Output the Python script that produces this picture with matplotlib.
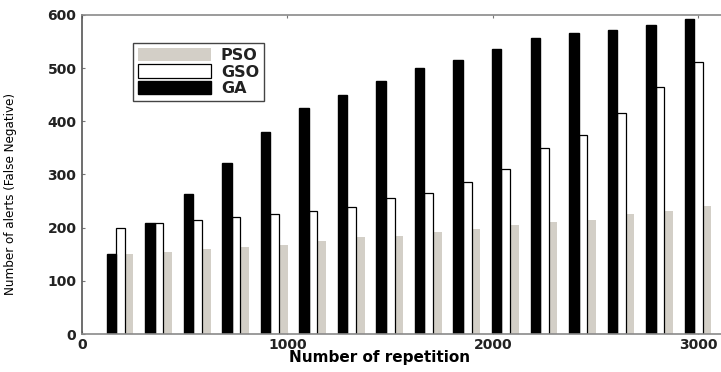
import numpy as np
import matplotlib
matplotlib.use('Agg')
import matplotlib.pyplot as plt

# repetitions (16 groups, step 187.5)
reps = [187.5 * k for k in range(1, 17)]
pso = [150, 155, 159, 163, 168, 175, 182, 184, 191, 197, 205, 210, 214, 226, 231, 241]
gso = [199, 209, 214, 220, 225, 231, 238, 256, 265, 285, 310, 350, 375, 415, 464, 511]
ga = [150, 209, 263, 321, 380, 425, 449, 476, 500, 515, 536, 556, 566, 571, 581, 592]

xticks = [0, 1000, 2000, 3000]
yticks = [0, 100, 200, 300, 400, 500, 600]

fig = plt.figure(figsize=(7.21, 3.72), dpi=100)
ax = fig.add_axes([0.1137, 0.102, 0.8863 + 0.02, 0.858])

x = np.array(reps)
w = 42
ax.bar(x + w, pso, width=w, color='#d3cfc7', edgecolor='none', label='PSO', zorder=2)
ax.bar(x, gso, width=w, color='white', edgecolor='black', linewidth=0.9, label='GSO', zorder=2)
ax.bar(x - w * 1.05, ga, width=w * 1.1, color='black', edgecolor='black', label='GA', zorder=2)

ax.set_xlim(0, 3180)
ax.set_ylim(0, 600)
ax.set_xticks(xticks)
ax.set_yticks(yticks)
ax.tick_params(direction='in', length=2, top=True, right=False, width=0.8, color='#777777')
for lbl in ax.get_xticklabels() + ax.get_yticklabels():
    lbl.set_fontweight('bold')
    lbl.set_fontsize(10)
    lbl.set_color('#222222')
ax.tick_params(axis='x', pad=3)
ax.tick_params(axis='y', pad=4)

for s in ['top', 'bottom', 'left']:
    ax.spines[s].set_color('#8a8a8a')
    ax.spines[s].set_linewidth(1.2)
ax.spines['left'].set_color('#555555')
ax.spines['right'].set_visible(False)

ax.set_xlabel('Number of repetition', fontsize=11, fontweight='bold')
ax.xaxis.set_label_coords(0.455, -0.05)
ax.set_ylabel('Number of alerts (False Negative)', fontsize=9.5, stretch='condensed')
ax.yaxis.set_label_coords(-0.1, 0.44)

handles, labels = ax.get_legend_handles_labels()
leg = ax.legend(handles, labels, loc='upper left', bbox_to_anchor=(0.078, 0.912),
                fancybox=False, framealpha=1, edgecolor='#444444',
                handlelength=4.6, handleheight=0.9, labelspacing=0.1,
                borderpad=0.3, handletextpad=0.6, borderaxespad=0,
                prop={'weight': 'bold', 'size': 11.5})
leg.get_frame().set_linewidth(1.0)
for t in leg.get_texts():
    t.set_color('#222222')

fig.savefig('out.png', dpi=100)
